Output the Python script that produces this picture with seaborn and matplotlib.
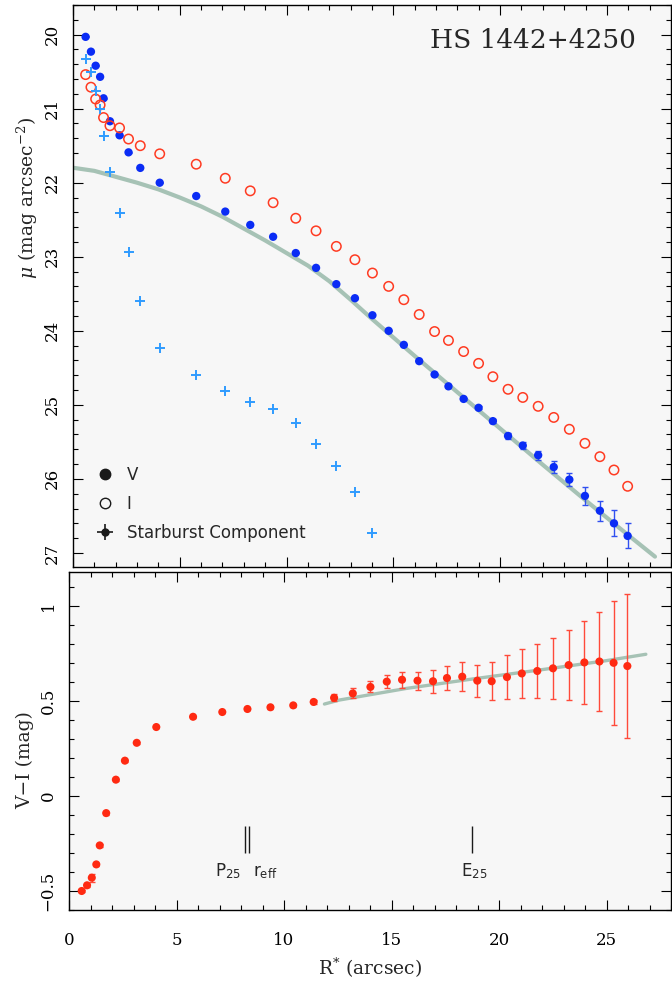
import numpy as np
import pandas as pd
import matplotlib
matplotlib.use("Agg")
import matplotlib.pyplot as plt
import seaborn as sns
from matplotlib.lines import Line2D
from matplotlib.ticker import MultipleLocator

# ---------------- data ----------------
radius = [0.59, 0.84, 1.06, 1.27, 1.43, 1.73, 2.18, 2.60, 3.15, 4.06, 5.77, 7.13,
          8.30, 9.37, 10.43, 11.38, 12.33, 13.20, 14.02, 14.78, 15.49, 16.21, 16.93,
          17.58, 18.29, 18.99, 19.66, 20.37, 21.06, 21.78, 22.51, 23.24, 23.97, 24.67,
          25.33, 25.97]
mu_V = [20.03, 20.23, 20.42, 20.57, 20.86, 21.17, 21.36, 21.59, 21.80, 22.00, 22.18,
        22.39, 22.57, 22.73, 22.95, 23.15, 23.37, 23.56, 23.79, 24.00, 24.19, 24.41,
        24.59, 24.75, 24.92, 25.04, 25.22, 25.42, 25.55, 25.68, 25.84, 26.01, 26.23,
        26.43, 26.60, 26.77]
mu_V_err = [0.005, 0.005, 0.005, 0.005, 0.005, 0.005, 0.005, 0.005, 0.005, 0.005,
            0.005, 0.005, 0.005, 0.005, 0.005, 0.005, 0.005, 0.005, 0.005, 0.006,
            0.006, 0.007, 0.008, 0.009, 0.012, 0.018, 0.03, 0.045, 0.052, 0.063,
            0.079, 0.092, 0.12, 0.137, 0.176, 0.17]
mu_I = [20.54, 20.71, 20.87, 20.95, 21.12, 21.23, 21.26, 21.41, 21.50, 21.61, 21.75,
        21.94, 22.11, 22.27, 22.48, 22.65, 22.86, 23.04, 23.22, 23.40, 23.58, 23.78,
        24.01, 24.13, 24.28, 24.44, 24.62, 24.79, 24.90, 25.02, 25.17, 25.33, 25.52,
        25.70, 25.88, 26.10]
radius_sb = radius[:19]
mu_sb = [20.33, 20.51, 20.76, 21.01, 21.37, 21.86, 22.41, 22.93, 23.60, 24.23, 24.60,
         24.81, 24.96, 25.05, 25.25, 25.53, 25.83, 26.18, 26.73]
fit_R = [0.05, 1.0, 2.0, 3.0, 4.0, 5.0, 6.0, 7.0, 8.0, 9.0, 10.0, 11.0, 12.0, 13.0,
         14.0, 15.0, 16.0, 18.0, 20.0, 22.0, 24.0, 26.0, 27.25]
fit_mu = [21.80, 21.84, 21.92, 22.00, 22.09, 22.20, 22.32, 22.46, 22.62, 22.78, 22.95,
          23.12, 23.33, 23.58, 23.84, 24.09, 24.34, 24.83, 25.32, 25.81, 26.29, 26.76,
          27.05]
color_VI = [-0.50, -0.47, -0.43, -0.36, -0.26, -0.09, 0.086, 0.186, 0.28, 0.363, 0.417,
            0.442, 0.458, 0.467, 0.477, 0.495, 0.517, 0.54, 0.574, 0.602, 0.612, 0.607,
            0.604, 0.621, 0.628, 0.607, 0.604, 0.626, 0.645, 0.658, 0.672, 0.689, 0.703,
            0.708, 0.701, 0.684]
color_VI_err = [0.005, 0.008, 0.02, 0.01, 0.01, 0.008, 0.006, 0.006, 0.005, 0.005,
                0.005, 0.006, 0.007, 0.008, 0.009, 0.012, 0.018, 0.026, 0.029, 0.034,
                0.041, 0.048, 0.061, 0.065, 0.075, 0.085, 0.10, 0.118, 0.129, 0.142,
                0.161, 0.186, 0.22, 0.258, 0.327, 0.38]
colfit_R = [11.88, 12.57, 15.68, 18.77, 21.87, 24.97, 26.83]
colfit_VI = [0.484, 0.505, 0.566, 0.616, 0.663, 0.712, 0.746]
p25_R = 8.20
reff_R = 8.36
e25_R = 18.75
xticks = [0, 5, 10, 15, 20, 25]
yticks_mu = [20, 21, 22, 23, 24, 25, 26, 27]
yticks_col = [-0.5, 0, 0.5, 1]

# ---------------- style ----------------
sns.set_theme(style="ticks")
plt.rcParams.update({
    "font.family": ["DejaVu Serif", "DejaVu Sans"],
    "mathtext.fontset": "dejavuserif",
    "axes.facecolor": "#f7f7f7",
    "figure.facecolor": "white",
    "axes.edgecolor": "black",
    "axes.linewidth": 1.0,
})

BLUE = "#0a2cf5"
RED_I = "#ff3b22"
CYAN = "#2f9bff"
RED = "#ff2a12"
RED_ERR = "#ff4a3a"
GREEN = "#a6c2b5"

fig = plt.figure(figsize=(6.72, 9.82), dpi=100)
ax1 = fig.add_axes([73 / 672, 1 - 567 / 982, (671 - 73) / 672, (567 - 5) / 982])
ax2 = fig.add_axes([69 / 672, 1 - 910 / 982, (671 - 69) / 672, (910 - 572) / 982])

df_prof = pd.DataFrame({"R": radius, "V": mu_V, "Verr": mu_V_err, "I": mu_I,
                        "VI": color_VI, "VIerr": color_VI_err})
df_sb = pd.DataFrame({"R": radius_sb, "mu": mu_sb})

# ---------------- top panel ----------------
sns.lineplot(x=fit_R, y=fit_mu, ax=ax1, color=GREEN, lw=3.0, sort=False, zorder=1)
ax1.errorbar(df_prof["R"], df_prof["V"], yerr=df_prof["Verr"], fmt="none",
             ecolor="#3050f0", elinewidth=1.0, capsize=2.5, capthick=1.0, zorder=2)
sns.scatterplot(data=df_prof, x="R", y="V", ax=ax1, color=BLUE, s=36,
                edgecolor="none", linewidth=0, zorder=3)
sns.scatterplot(data=df_prof, x="R", y="I", ax=ax1, color=RED_I, s=46, zorder=3)
icoll = ax1.collections[-1]
icoll.set_facecolor("none")
icoll.set_edgecolor(RED_I)
icoll.set_linewidth(1.1)
sns.scatterplot(data=df_sb, x="R", y="mu", ax=ax1, color=CYAN, marker="+", s=60,
                linewidth=1.4, zorder=3)

ax1.set_xlim(0, 28)
ax1.set_ylim(27.19, 19.6)
ax1.set_xticks(xticks)
ax1.set_yticks(yticks_mu)
ax1.xaxis.set_minor_locator(MultipleLocator(1))
ax1.yaxis.set_minor_locator(MultipleLocator(0.2))
ax1.set_xlabel("")
ax1.set_ylabel(r"$\mu$ (mag arcsec$^{-2}$)", fontsize=13.5, va="center")
ax1.yaxis.set_label_coords((27 - 73) / 598, 0.657)

ax1.text(0.9416, 0.936, "HS 1442+4250", transform=ax1.transAxes, ha="right",
         va="center", fontsize=19, family="DejaVu Serif")

handles = [
    Line2D([], [], marker="o", ls="none", color="k", ms=7.5, mec="k"),
    Line2D([], [], marker="o", ls="none", mfc="none", mec="k", ms=7.5, mew=1.0),
    (Line2D([], [], marker="+", ls="none", color="k", ms=11, mew=1.2),
     Line2D([], [], marker="o", ls="none", color="k", ms=5)),
]
ax1.legend(handles, ["V", "I", "Starburst Component"], loc="lower left",
           bbox_to_anchor=(0.0394, 0.0445), frameon=False, borderpad=0,
           borderaxespad=0, handlelength=1.0, handletextpad=0.8, labelspacing=0.65,
           prop={"family": "DejaVu Sans", "size": 12})

# ---------------- bottom panel ----------------
sns.lineplot(x=colfit_R, y=colfit_VI, ax=ax2, color=GREEN, lw=2.4, sort=False,
             zorder=1)
ax2.errorbar(df_prof["R"], df_prof["VI"], yerr=df_prof["VIerr"], fmt="none",
             ecolor=RED_ERR, elinewidth=1.0, capsize=2.5, capthick=1.0, zorder=2)
sns.scatterplot(data=df_prof, x="R", y="VI", ax=ax2, color=RED, s=34,
                edgecolor="none", linewidth=0, zorder=3)

ax2.vlines([p25_R, reff_R], -0.30, -0.16, color="k", lw=1.0)
ax2.vlines([e25_R], -0.30, -0.16, color="k", lw=1.0)
ax2.text(p25_R - 0.2, -0.42, r"P$_\mathsf{25}$", ha="right", va="baseline",
         fontsize=12, family="DejaVu Sans")
ax2.text(reff_R + 0.2, -0.42, r"r$_\mathsf{eff}$", ha="left", va="baseline",
         fontsize=12, family="DejaVu Sans")
ax2.text(e25_R - 0.52, -0.42, r"E$_\mathsf{25}$", ha="left", va="baseline",
         fontsize=12, family="DejaVu Sans")

ax2.set_xlim(0, 28)
ax2.set_ylim(-0.6, 1.179)
ax2.set_xticks(xticks)
ax2.set_yticks(yticks_col)
ax2.set_yticklabels(["\u22120.5", "0", "0.5", "1"])
ax2.xaxis.set_minor_locator(MultipleLocator(1))
ax2.yaxis.set_minor_locator(MultipleLocator(0.1))
ax2.set_xlabel(r"R$^{*}$ (arcsec)", fontsize=13.5, va="center")
ax2.xaxis.set_label_coords(0.5, (910 - 968) / 338)
ax2.set_ylabel("V\u2212I (mag)", fontsize=13.5, va="center")
ax2.yaxis.set_label_coords((25 - 69) / 602, 0.444)

for ax in (ax1, ax2):
    ax.tick_params(which="both", direction="in", top=True, right=True,
                   colors="black", width=0.8, labelsize=12)
    ax.tick_params(which="major", length=7)
    ax.tick_params(which="minor", length=3.5)
    ax.tick_params(axis="x", pad=16)
    ax.tick_params(axis="y", pad=9, labelrotation=90)
    for lab in ax.get_yticklabels():
        lab.set_va("center")
    for sp in ax.spines.values():
        sp.set_visible(True)
        sp.set_color("black")
        sp.set_linewidth(1.0)
ax1.tick_params(labelbottom=False)

fig.savefig("out.png", dpi=100)
